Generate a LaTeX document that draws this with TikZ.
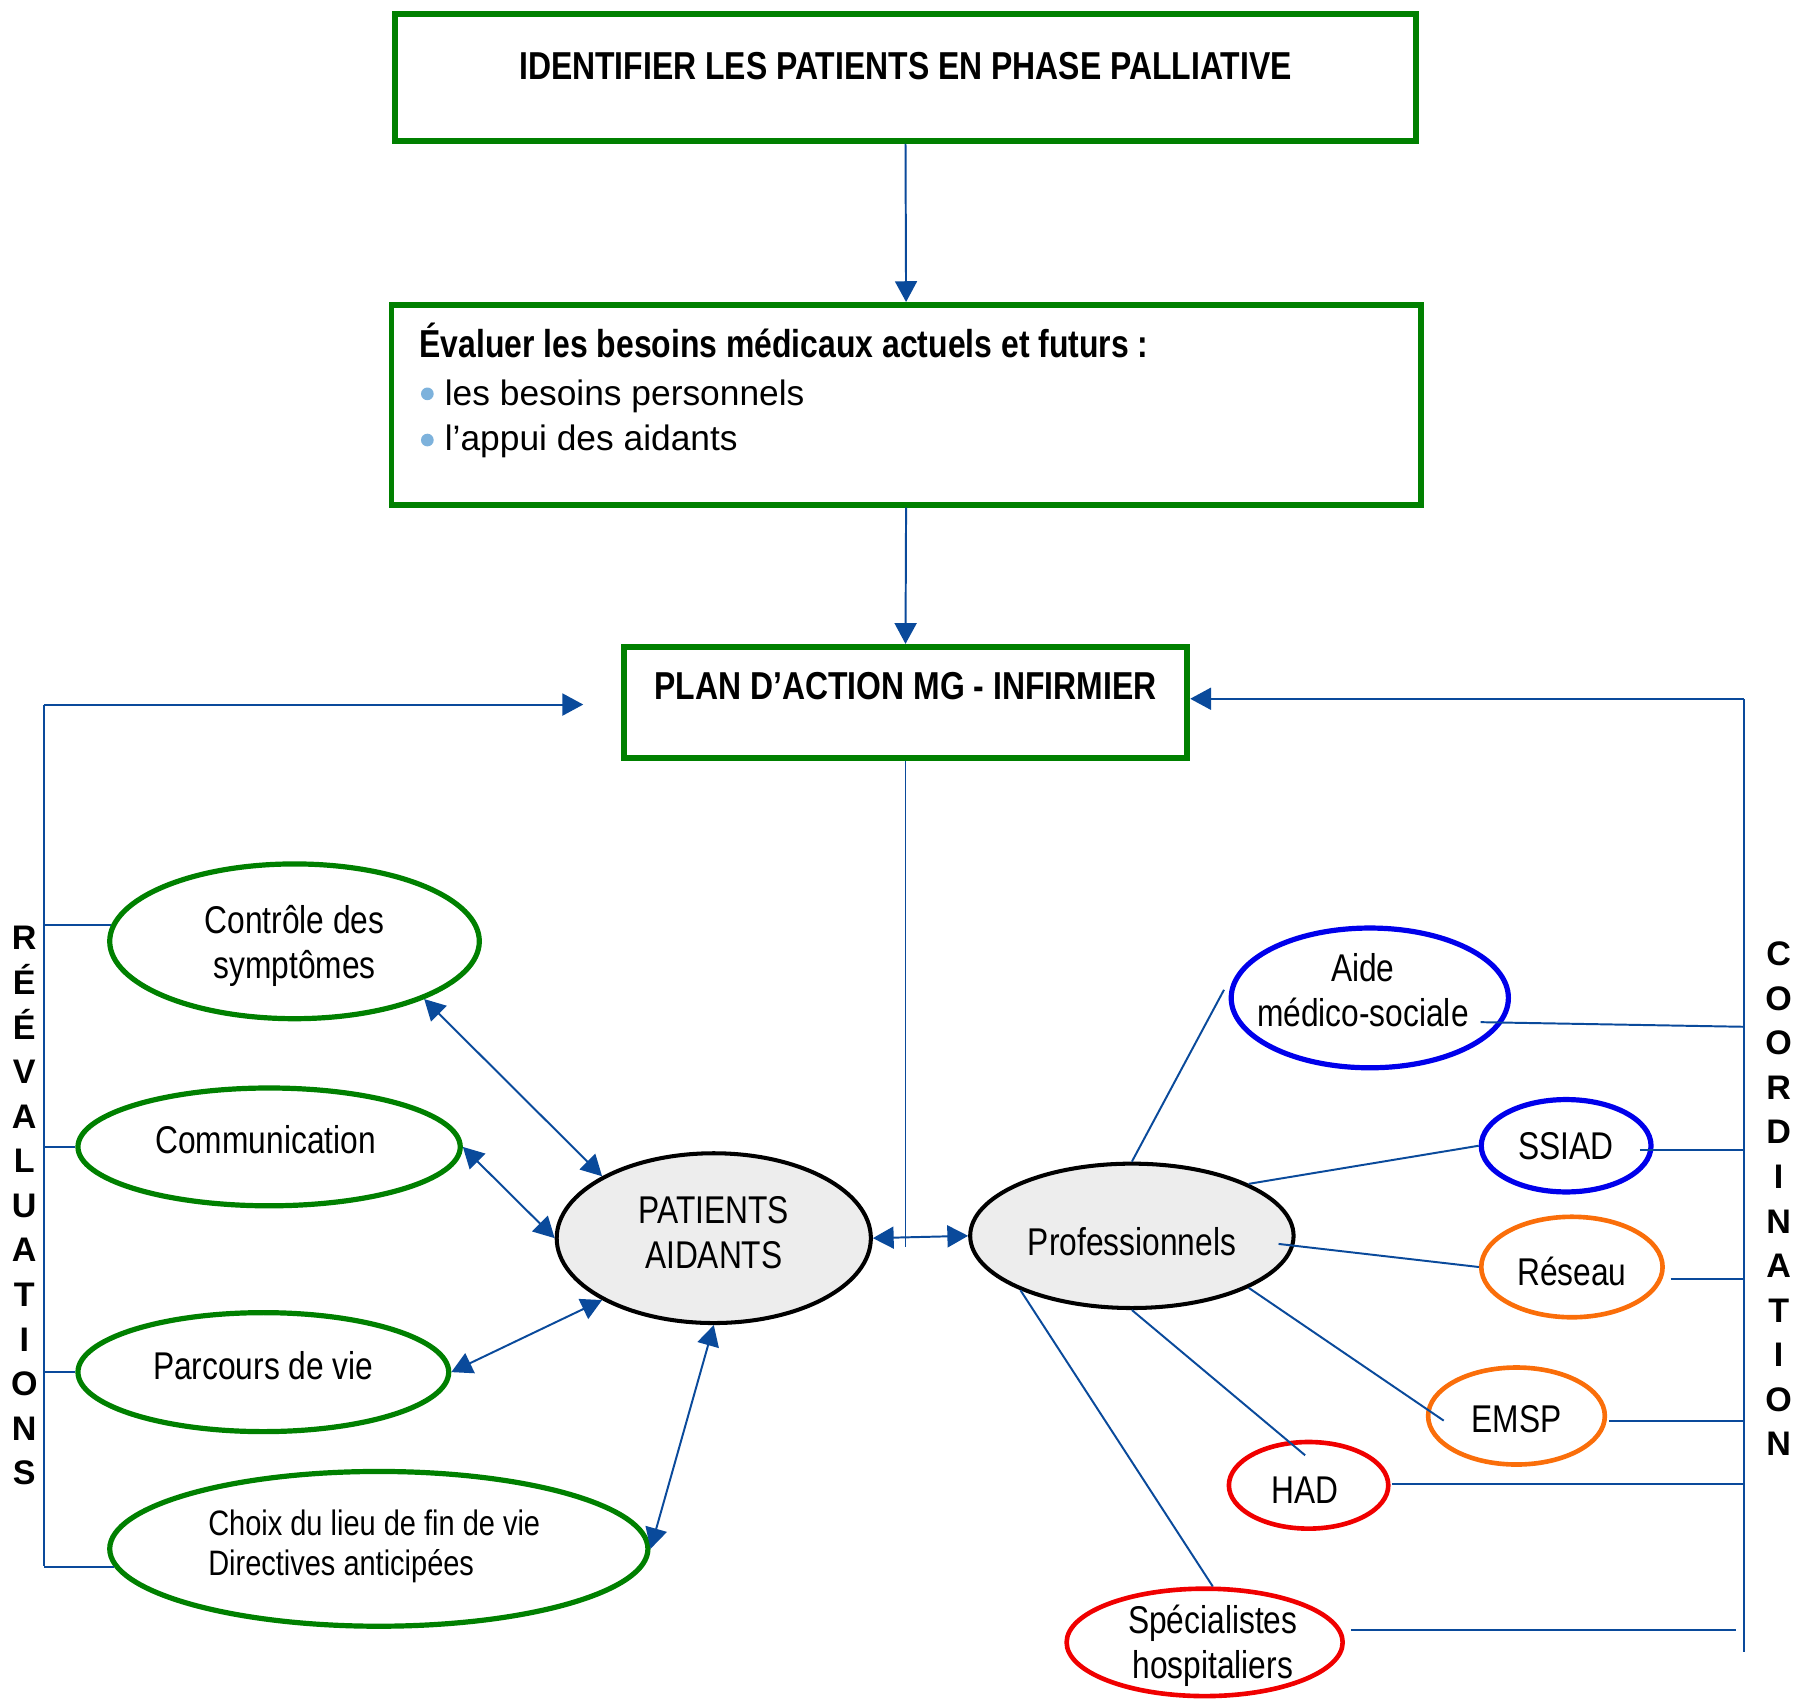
\documentclass[tikz,border=0pt]{standalone}
\usepackage{fontspec}
\setmainfont{Liberation Sans}
\newfontfamily\nar[FakeStretch=0.82]{Liberation Sans}
\usetikzlibrary{shapes.geometric,arrows.meta,calc}
\definecolor{gr}{RGB}{0,128,0}
\definecolor{ln}{RGB}{10,74,155}
\definecolor{bl}{RGB}{0,0,235}
\definecolor{orng}{RGB}{250,110,10}
\definecolor{rd}{RGB}{240,0,0}
\definecolor{bul}{RGB}{125,178,220}
\definecolor{pfill}{RGB}{237,237,237}
\begin{document}
\begin{tikzpicture}[x=1pt,y=-1pt,
  gbox/.style={draw=gr,line width=5pt,inner sep=0pt},
  ell/.style={ellipse,inner sep=0pt,line width=4.5pt},
  lab/.style={inner sep=0pt,align=center,font=\nar\fontsize{33.5}{39}\selectfont},
  greenell/.style={ell,draw=gr},
  blueell/.style={ell,draw=bl},
  orell/.style={ell,draw=orng,line width=4pt},
  redell/.style={ell,draw=rd,line width=4pt},
  greyell/.style={ell,draw=black,fill=pfill,line width=3.5pt},
  boldtxt/.style={inner sep=0pt,font=\nar\bfseries\fontsize{33.7}{40}\selectfont},
  regtxt/.style={inner sep=0pt,font=\fontsize{30.6}{36}\selectfont},
  stack/.style={inner sep=0pt,align=center,font=\bfseries\fontsize{29.5}{38.6}\selectfont},
  conn/.style={draw=ln,line width=1.7pt},
  tip/.tip={Triangle[length=18pt,width=19pt]},
  arr/.style={conn,-tip},
  darr/.style={conn,tip-tip},
  ]
\useasboundingbox (0,0) rectangle (1568,1473);

% boxes
\node[gbox,minimum width=884pt,minimum height=110pt] (b1) at (784,67) {};
\node[boldtxt] (t1) at (784,57) {IDENTIFIER LES PATIENTS EN PHASE PALLIATIVE};

\node[gbox,minimum width=891pt,minimum height=173pt] (b2) at (784.5,350.5) {};
\node[boldtxt,anchor=west] (t2) at (363,295) {Évaluer les besoins médicaux actuels et futurs :};
\node[circle,fill=bul,inner sep=0pt,minimum size=11pt] (d1) at (370,341) {};
\node[regtxt,anchor=west] (t3) at (385,343) {les besoins personnels};
\node[circle,fill=bul,inner sep=0pt,minimum size=11pt] (d2) at (370,381) {};
\node[regtxt,anchor=west] (t4) at (385,382) {l’appui des aidants};

\node[gbox,minimum width=488pt,minimum height=96pt] (b3) at (784,608) {};
\node[boldtxt] (t5) at (784,594) {PLAN D’ACTION MG - INFIRMIER};

% left ellipses
\node[greenell,minimum width=320pt,minimum height=134pt,
  label={[lab,yshift=-4pt]center:Contrôle des\\symptômes}] (ctrl) at (255,815) {};
\node[greenell,minimum width=331pt,minimum height=102pt,
  label={[lab,yshift=6pt,xshift=-3pt]center:Communication}] (comm) at (233,993) {};
\node[greenell,minimum width=321pt,minimum height=103pt,
  label={[lab,yshift=6pt]center:Parcours de vie}] (parc) at (228,1188) {};
\node[greenell,minimum width=466pt,minimum height=134pt,
  label={[lab,align=left,font=\nar\fontsize{30.6}{35}\selectfont,xshift=-4pt,yshift=2pt]center:Choix du lieu de fin de vie\\Directives anticipées}] (choix) at (328,1341) {};

% centre
\node[greyell,minimum width=272pt,minimum height=147pt,
  label={[lab,yshift=5pt]center:PATIENTS\\AIDANTS}] (pat) at (618,1072) {};
\node[greyell,minimum width=280pt,minimum height=125pt,
  label={[lab,yshift=-5pt]center:Professionnels}] (prof) at (980,1070) {};

% right ellipses
\node[blueell,minimum width=240pt,minimum height=121pt,
  label={[lab,yshift=7pt,xshift=-6pt]center:Aide\\médico-sociale}] (aide) at (1186,864) {};
\node[blueell,minimum width=147pt,minimum height=80pt,
  label={[lab]center:SSIAD}] (ssiad) at (1356,992) {};
\node[orell,minimum width=157pt,minimum height=87pt,
  label={[lab,yshift=-4pt]center:Réseau}] (reseau) at (1361,1097) {};
\node[orell,minimum width=153pt,minimum height=84pt,
  label={[lab,yshift=-3pt]center:EMSP}] (emsp) at (1313,1226) {};
\node[redell,minimum width=138pt,minimum height=75pt,
  label={[lab,yshift=-4pt,xshift=-3pt]center:HAD}] (had) at (1133,1286) {};
\node[redell,minimum width=239pt,minimum height=93pt,
  label={[lab,yshift=-3pt,xshift=7pt]center:Spécialistes\\hospitaliers}] (spec) at (1043,1422) {};

% side labels
\node[stack] (reev) at (21,1044) {R\\É\\É\\V\\A\\L\\U\\A\\T\\I\\O\\N\\S};
\node[stack] (coord) at (1540,1038) {C\\O\\O\\R\\D\\I\\N\\A\\T\\I\\O\\N};

% main flow
\draw[arr] (b1.south) -- (b2.north);
\draw[arr] (b2.south) -- (b3.north);
\coordinate (pend) at (784,1080);
\draw[conn] (b3.south) -- (pend);
\draw[darr] (pat.east) -- (prof.west);

% patients arrows
\draw[darr] (ctrl.-24) -- (pat.151);
\draw[darr] (comm.east) -- (pat.west);
\draw[darr] (parc.east) -- (pat.209);
\draw[darr] (choix.east) -- (pat.south);

% left rail
\coordinate (LT) at (38,610);
\coordinate (LB) at (38,1356);
\coordinate (LA) at (505,610);
\draw[conn] (LB) -- (LT);
\draw[arr] (LT) -- (LA);
\draw[conn] (ctrl.175) -- (ctrl.175 -| LT);
\draw[conn] (comm.west) -- (comm.west -| LT);
\draw[conn] (parc.west) -- (parc.west -| LT);
\draw[conn] (choix.184) -- (choix.184 -| LT);

% right rail
\coordinate (RT) at (1510,605);
\coordinate (RB) at (1510,1430);
\draw[conn] (RB) -- (RT);
\draw[arr] (RT) -- (RT -| b3.east);
\coordinate (a1) at ($(aide.center)+(96,21)$);
\coordinate (a2) at (1510,889);
\draw[conn] (a1) -- (a2);
\draw[conn] ($(ssiad.east)+(-12,4)$) coordinate (s1) -- (s1 -| RT);
\draw[conn] ($(reseau.east)+(5,10)$) coordinate (r1) -- (r1 -| RT);
\draw[conn] ($(emsp.east)+(2,4)$) coordinate (e1) -- (e1 -| RT);
\draw[conn] ($(had.east)+(1,-1)$) coordinate (h1) -- (h1 -| RT);
\coordinate (spend) at (1503,1411);
\draw[conn] ($(spec.east)+(5,-11)$) -- (spend);

% professionnels links
\draw[conn] (prof.north) -- ($(aide.west)+(-4,-7)$);
\draw[conn] (prof.24) -- (ssiad.west);
\draw[conn] ($(prof.center)+(127,7)$) -- (reseau.west);
\draw[conn] (prof.-24) -- ($(emsp.center)+(-63,4)$);
\draw[conn] (prof.south) -- ($(had.center)+(-3,-26)$);
\draw[conn] (prof.206) -- ($(spec.north)+(7,0)$);
\end{tikzpicture}
\end{document}
